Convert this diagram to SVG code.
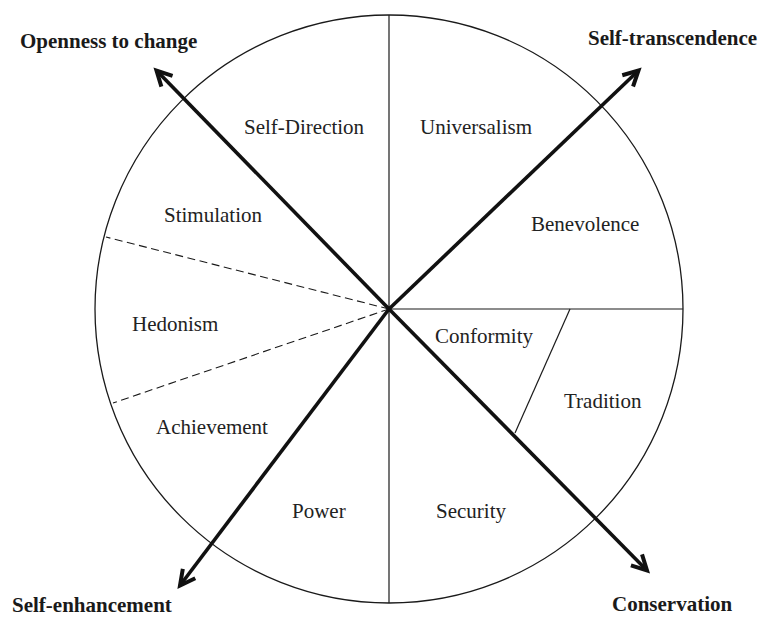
<svg xmlns="http://www.w3.org/2000/svg" width="772" height="617" viewBox="0 0 772 617">
  <style>
    .rim { fill: none; stroke: #1a1a1a; stroke-width: 1.3; }
    .div { stroke: #1a1a1a; stroke-width: 1.2; fill: none; }
    .dash { stroke: #1a1a1a; stroke-width: 1.1; stroke-dasharray: 8 4.5; fill: none; }
    .axis { stroke: #111; stroke-width: 3.6; fill: none; marker-end: url(#chev); }
    .lbl { font-family: "Liberation Serif", "Times New Roman", serif; font-size: 21px; fill: #222; }
    .dim { font-family: "Liberation Serif", "Times New Roman", serif; font-size: 21px; font-weight: bold; fill: #1a1a1a; }
  </style>
  <defs>
    <marker id="chev" markerUnits="userSpaceOnUse" markerWidth="30" markerHeight="30" viewBox="-20 -15 30 30" refX="0" refY="0" orient="auto" overflow="visible">
      <path d="M -15 -7.8 L 0 0 L -15 7.8" fill="none" stroke="#111" stroke-width="4"/>
    </marker>
  </defs>
  <rect width="772" height="617" fill="#fff"/>

  <!-- circle and sector dividers -->
  <g id="wheel">
    <circle class="rim" cx="389" cy="309" r="294"/>
    <line class="div" x1="389" y1="15" x2="389" y2="603"/>
    <line class="div" x1="389" y1="309" x2="683" y2="309"/>
    <line class="div" x1="570" y1="309" x2="515" y2="433"/>
    <line class="dash" x1="389" y1="309" x2="106" y2="237"/>
    <line class="dash" x1="389" y1="309" x2="113" y2="403"/>
  </g>

  <!-- value sectors -->
  <g id="self-direction"><text class="lbl" x="244" y="134">Self-Direction</text></g>
  <g id="universalism"><text class="lbl" x="420" y="134">Universalism</text></g>
  <g id="stimulation"><text class="lbl" x="164" y="222">Stimulation</text></g>
  <g id="benevolence"><text class="lbl" x="531" y="231">Benevolence</text></g>
  <g id="hedonism"><text class="lbl" x="132" y="331">Hedonism</text></g>
  <g id="conformity"><text class="lbl" x="435" y="343">Conformity</text></g>
  <g id="tradition"><text class="lbl" x="564" y="408">Tradition</text></g>
  <g id="achievement"><text class="lbl" x="156" y="434">Achievement</text></g>
  <g id="power"><text class="lbl" x="292" y="518">Power</text></g>
  <g id="security"><text class="lbl" x="436" y="518">Security</text></g>

  <!-- higher-order dimension axes -->
  <g id="axes">
    <line class="axis" x1="389" y1="309" x2="156.5" y2="70.5"/>
    <line class="axis" x1="389" y1="309" x2="638.5" y2="70.5"/>
    <line class="axis" x1="389" y1="309" x2="180" y2="585.5"/>
    <line class="axis" x1="389" y1="309" x2="647" y2="570.5"/>
  </g>

  <!-- dimension labels -->
  <g id="openness"><text class="dim" x="20" y="48">Openness to change</text></g>
  <g id="self-transcendence"><text class="dim" x="588" y="45">Self-transcendence</text></g>
  <g id="self-enhancement"><text class="dim" x="12" y="612">Self-enhancement</text></g>
  <g id="conservation"><text class="dim" x="612" y="611">Conservation</text></g>
</svg>
